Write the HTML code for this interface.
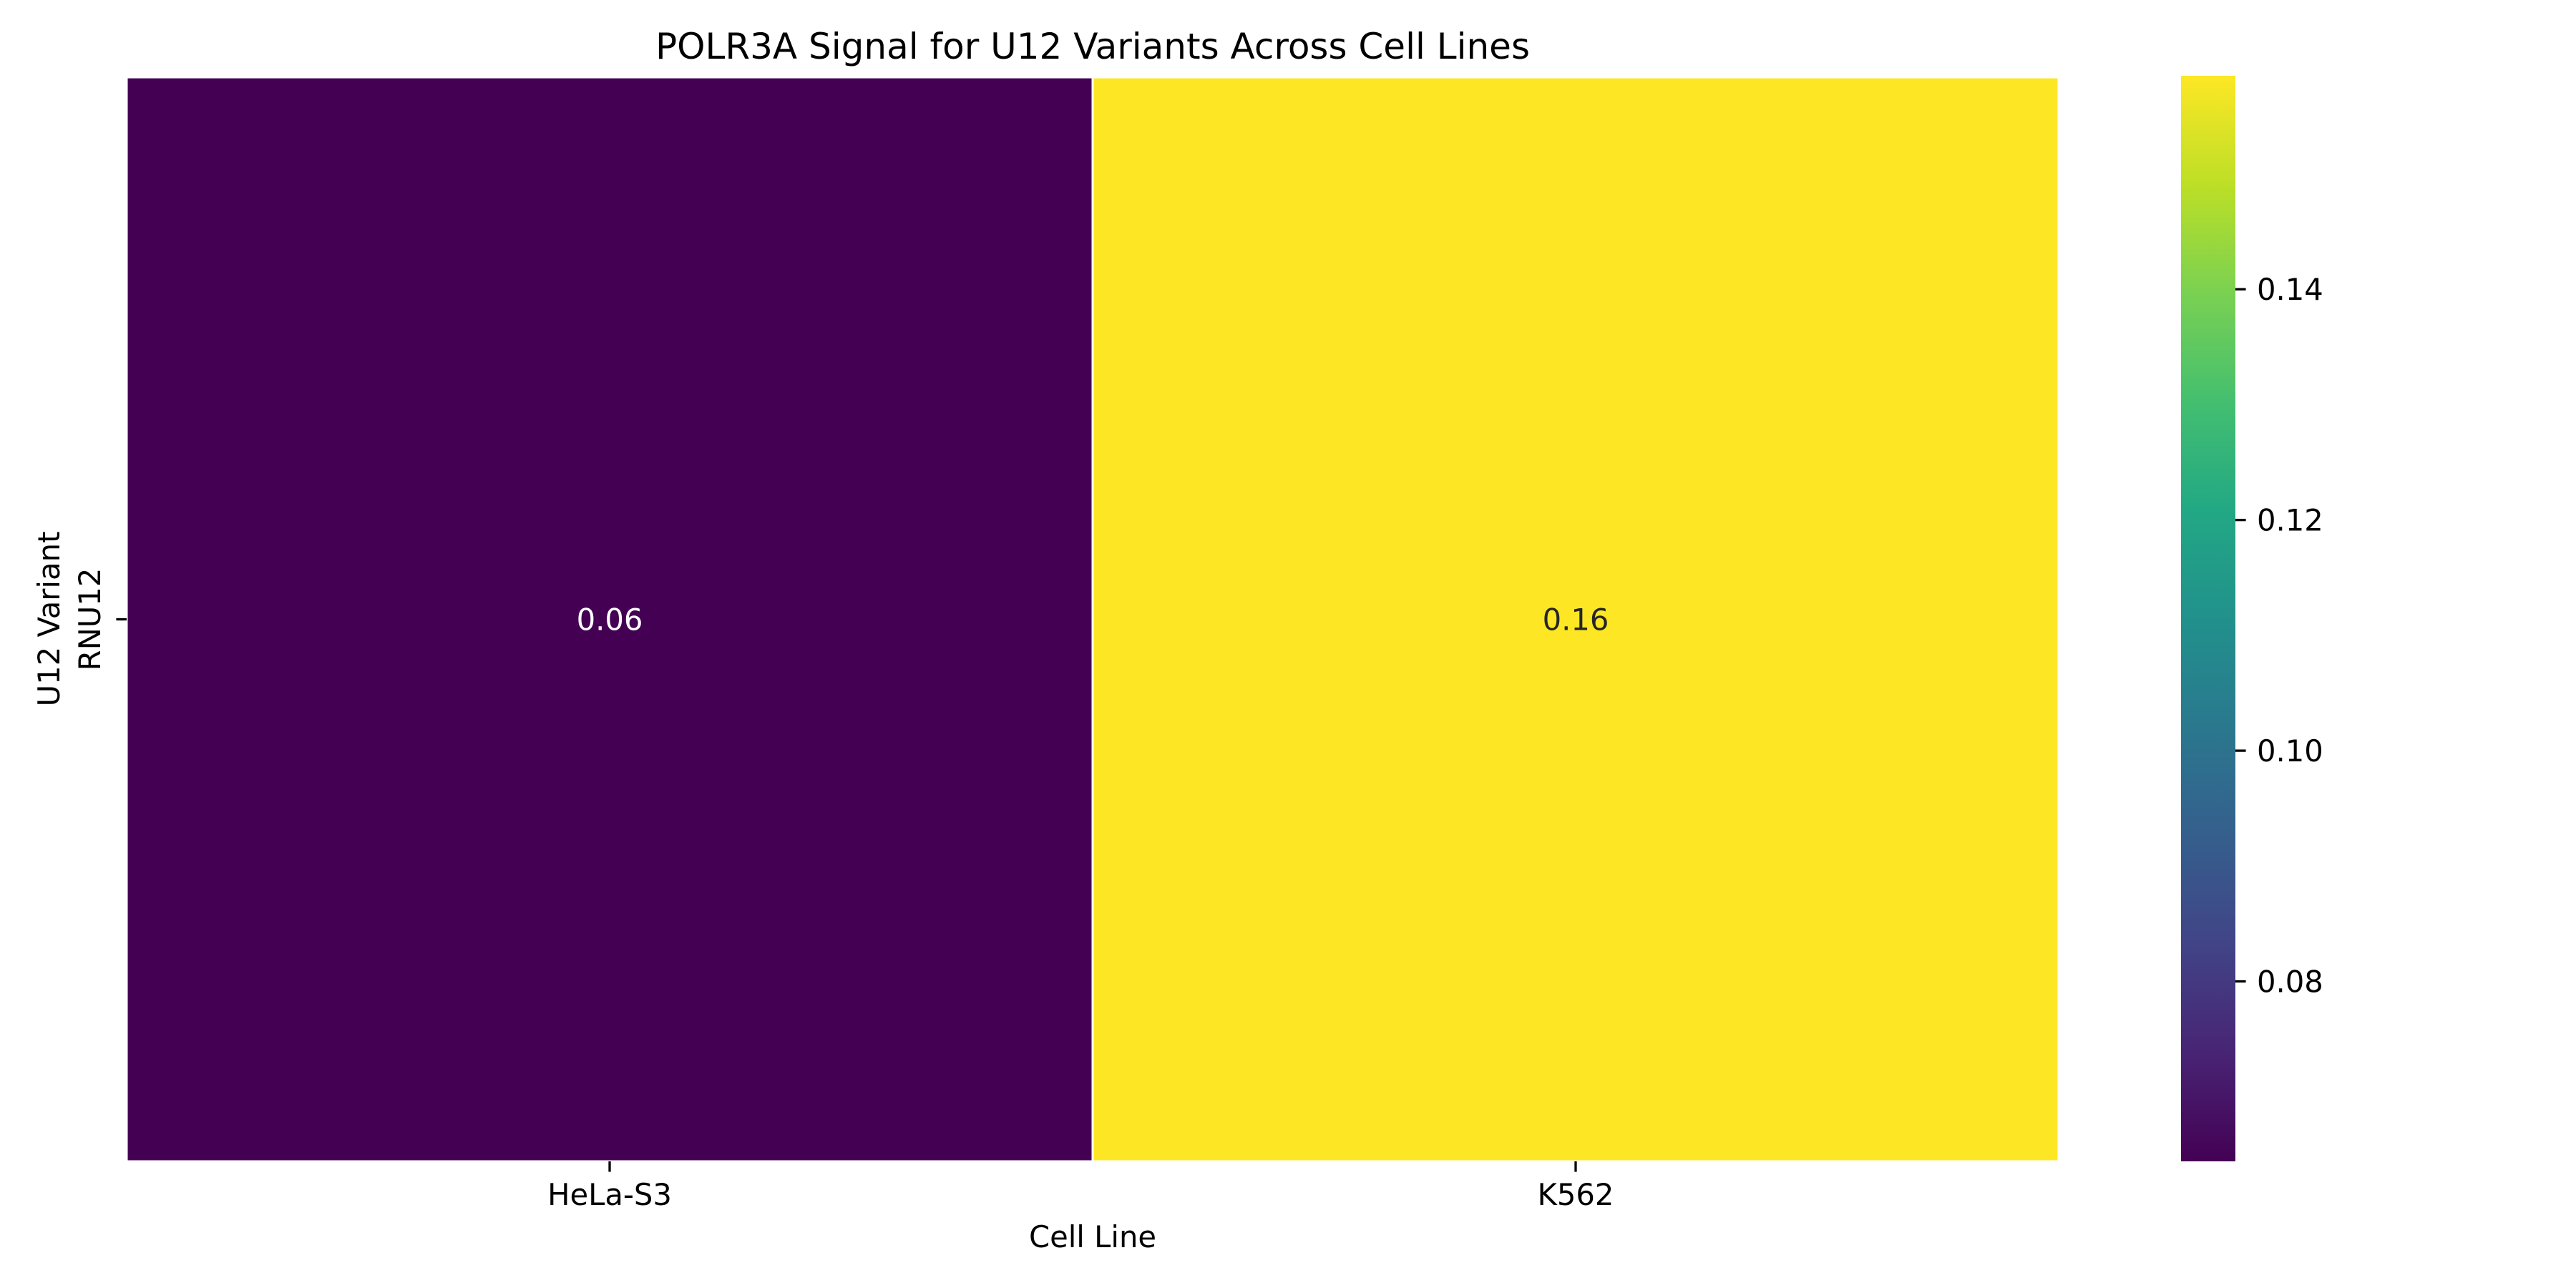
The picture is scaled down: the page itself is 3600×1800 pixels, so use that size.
<!DOCTYPE html>
<html><head><meta charset="utf-8"><style>
html,body{margin:0;padding:0;background:#fff}
svg{display:block}
text{font-family:"DejaVu Sans","Liberation Sans",sans-serif;fill:#000}
</style></head><body>
<svg id="chart" width="3600" height="1800" viewBox="0 0 3600 1800">
<defs>
<linearGradient id="viridis" x1="0" y1="1" x2="0" y2="0">
<stop offset="0" stop-color="#440154"/><stop offset="0.1" stop-color="#482475"/>
<stop offset="0.2" stop-color="#414487"/><stop offset="0.3" stop-color="#355f8d"/>
<stop offset="0.4" stop-color="#2a788e"/><stop offset="0.5" stop-color="#21918c"/>
<stop offset="0.6" stop-color="#22a884"/><stop offset="0.7" stop-color="#44bf70"/>
<stop offset="0.8" stop-color="#7ad151"/><stop offset="0.9" stop-color="#bddf26"/>
<stop offset="1" stop-color="#fde725"/>
</linearGradient>
</defs>
<text x="1527" y="82" font-size="50" text-anchor="middle">POLR3A Signal for U12 Variants Across Cell Lines</text>
<g id="cells"></g>
<g id="xticks"></g>
<g id="yticks"></g>
<text x="1527" y="1743" font-size="41.7" text-anchor="middle">Cell Line</text>
<text transform="translate(83,865) rotate(-90)" font-size="41.7" text-anchor="middle">U12 Variant</text>
<rect x="3048" y="106" width="76" height="1517" fill="url(#viridis)"/>
<g id="cbticks"></g>
</svg>
<script>
const cellLines = ["HeLa-S3", "K562"];
const variants = ["RNU12"];
const signalValues = [[0.0644, 0.1585]];
const valueLabels = [["0.06", "0.16"]];
const cbTickValues = [0.08, 0.10, 0.12, 0.14];
const cbTickLabels = ["0.08", "0.10", "0.12", "0.14"];

const NS = "http://www.w3.org/2000/svg";
const L = 177, R = 2877, T = 108, B = 1623;
const cbT = 106, cbB = 1623, cbX = 3124;
let vmin = Infinity, vmax = -Infinity;
signalValues.forEach(r => r.forEach(v => { vmin = Math.min(vmin, v); vmax = Math.max(vmax, v); }));
const colW = (R - L) / cellLines.length, rowH = (B - T) / variants.length;
const xPos = i => L + i * colW;
const yPos = j => T + j * rowH;
const cbY = v => cbB - (v - vmin) / (vmax - vmin) * (cbB - cbT);
const stops = ["#440154","#482475","#414487","#355f8d","#2a788e","#21918c","#22a884","#44bf70","#7ad151","#bddf26","#fde725"];
function hex(c){return [1,3,5].map(i=>parseInt(c.substr(i,2),16));}
function color(v){
  let t = (v - vmin) / (vmax - vmin); t = Math.max(0, Math.min(1, t));
  const p = t * 10, i = Math.min(9, Math.floor(p)), f = p - i;
  const a = hex(stops[i]), b = hex(stops[i+1]);
  return "rgb(" + a.map((x,k)=>Math.round(x + (b[k]-x)*f)).join(",") + ")";
}
function mk(tag, attrs, parent){const e=document.createElementNS(NS,tag);for(const k in attrs)e.setAttribute(k,attrs[k]);parent.appendChild(e);return e;}
const cells = document.getElementById("cells");
variants.forEach((vn, j) => {
  cellLines.forEach((cl, i) => {
    const v = signalValues[j][i];
    const r = mk("rect", {x: xPos(i), y: yPos(j), width: colW, height: rowH, fill: color(v), stroke: "#fff", "stroke-width": 3}, cells);
    
    
    const t = (v - vmin) / (vmax - vmin);
    const tx = mk("text", {x: xPos(i) + colW/2, y: yPos(j) + rowH/2 + 15, "font-size": 41.7, "text-anchor": "middle"}, cells);
    tx.style.fill = t > 0.5 ? "#262626" : "#fff";
    tx.textContent = valueLabels[j][i];
    
    
  });
});
const xt = document.getElementById("xticks");
cellLines.forEach((cl, i) => {
  const cx = xPos(i) + colW/2;
  const ln = mk("line", {x1: cx, x2: cx, y1: B, y2: B + 14.6, stroke: "#000", "stroke-width": 3.3}, xt);
  
  
  const t = mk("text", {x: cx, y: B + 61, "font-size": 41.7, "text-anchor": "middle"}, xt);
  t.textContent = cl;
  
  
});
const yt = document.getElementById("yticks");
variants.forEach((vn, j) => {
  const cy = yPos(j) + rowH/2;
  const ln = mk("line", {x1: L - 14.6, x2: L, y1: cy, y2: cy, stroke: "#000", "stroke-width": 3.3}, yt);
  
  
  const t = mk("text", {"font-size": 41.7, "text-anchor": "middle", transform: "translate(140," + cy + ") rotate(-90)"}, yt);
  t.textContent = vn;
  
  
});
const cbt = document.getElementById("cbticks");
cbTickValues.forEach((v, k) => {
  const y = cbY(v);
  const ln = mk("line", {x1: cbX, x2: cbX + 14.6, y1: y, y2: y, stroke: "#000", "stroke-width": 3.3}, cbt);
  
  
  const t = mk("text", {x: cbX + 30, y: y + 15, "font-size": 41.7}, cbt);
  t.textContent = cbTickLabels[k];
  
  
});
</script>
</body></html>
